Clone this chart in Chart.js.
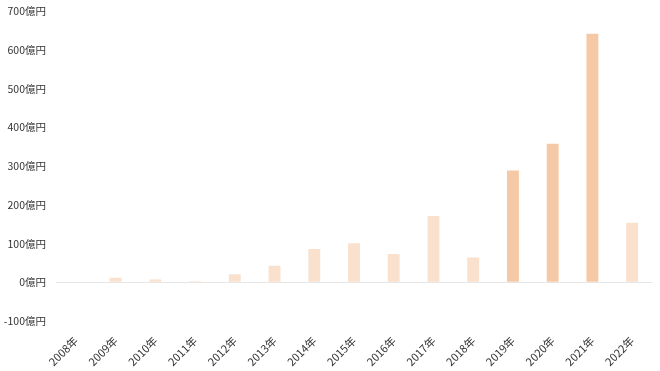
<!DOCTYPE html>
<html>
<head>
<meta charset="utf-8">
<script src="https://cdn.jsdelivr.net/npm/chart.js@4"></script>
<style>
  html, body { margin: 0; padding: 0; background: #fff; overflow: hidden; }
  #wrap { width: 660px; height: 376px; margin-top: -5px; }
</style>
</head>
<body>
<div id="wrap"><canvas id="chart"></canvas></div>
<script>
const years = ['2008年', '2009年', '2010年', '2011年', '2012年', '2013年', '2014年', '2015年',
  '2016年', '2017年', '2018年', '2019年', '2020年', '2021年', '2022年'];
const amounts = [0, 12, 7, 3, 21, 43, 86, 101, 73, 171, 64, 289, 358, 642, 154];
const highlightYears = ['2019年', '2020年', '2021年'];
const yTicks = [-100, 0, 100, 200, 300, 400, 500, 600, 700];

const lightColor = '#f9e1ce';
const darkColor = '#f6c9a6';

const ctx = document.getElementById('chart').getContext('2d');
new Chart(ctx, {
  type: 'bar',
  data: {
    labels: years,
    datasets: [{
      data: amounts,
      backgroundColor: years.map(y => highlightYears.includes(y) ? darkColor : lightColor),
      borderWidth: 0,
      barPercentage: 0.6,
      categoryPercentage: 0.5,
    }],
  },
  options: {
    responsive: true,
    maintainAspectRatio: false,
    animation: false,
    layout: { padding: { top: 0, right: 8, left: 0, bottom: 0 } },
    plugins: { legend: { display: false }, tooltip: { enabled: false } },
    scales: {
      x: {
        grid: { display: false },
        border: { display: false },
        afterFit: axis => { axis.height = 50; },
        ticks: {
          color: '#333333',
          font: { family: '"Noto Sans CJK JP", sans-serif', size: 11 },
          minRotation: 45,
          maxRotation: 45,
          padding: 5,
        },
      },
      y: {
        min: -100,
        max: 700,
        afterBuildTicks: axis => { axis.ticks = yTicks.map(v => ({ value: v })); },
        afterFit: axis => { axis.width = 56; },
        border: { display: false },
        grid: {
          drawTicks: false,
          color: c => c.tick && c.tick.value === 0 ? '#e6e6e6' : 'rgba(0,0,0,0)',
        },
        ticks: {
          color: '#333333',
          font: { family: '"Noto Sans CJK JP", sans-serif', size: 10.5 },
          padding: 10,
          callback: v => v + '億円',
        },
      },
    },
  },
});
</script>
</body>
</html>
